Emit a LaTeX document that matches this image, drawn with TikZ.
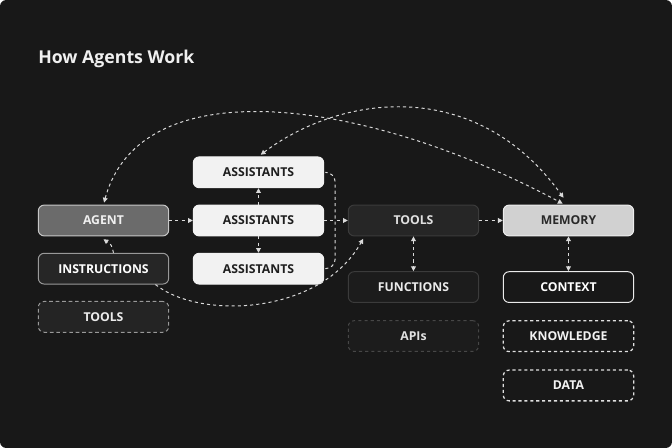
\documentclass[tikz,border=0pt]{standalone}
\usepackage{fontspec}
\setmainfont{Open Sans}
\usepackage{xcolor}
\usetikzlibrary{arrows.meta, positioning, calc}

\definecolor{bgdark}{HTML}{181818}
\definecolor{linkcol}{HTML}{DADADA}

\begin{document}
\begin{tikzpicture}[
    x=0.25mm, y=-0.25mm,
    node distance=4.1mm and 5.9mm,
    every node/.style={font=\fontsize{8.7}{10}\selectfont\bfseries},
    box/.style={
        rounded corners=4.2pt,
        align=center,
        minimum width=32.6mm,
        minimum height=7.7mm,
        inner sep=0pt,
        line width=0.7pt
    },
    agentbox/.style={box, draw=black!22, fill=black!58, text=white!94!black},
    darkbox/.style={box, draw=black!40, fill=black!85, text=white},
    ghostbox/.style={box, draw=black!40, fill=black!86, text=white!92!black, dashed, dash pattern=on 2.6pt off 2pt},
    lightbox/.style={box, draw=white!95!black, fill=white!95!black, text=black!88},
    toolbox/.style={box, draw=black!77, fill=black!85, text=white!88!black},
    funcbox/.style={box, draw=black!77, fill=black!89, text=white!92!black},
    apibox/.style={box, draw=black!72, fill=black!89, text=white!88!black, dashed, dash pattern=on 2.2pt off 2.2pt},
    membox/.style={box, draw=white!93!black, fill=black!18, text=black!84},
    ctxbox/.style={box, draw=white!92!black, fill=bgdark, text=white},
    databox/.style={box, draw=white!88!black, fill=bgdark, text=white!95!black, line width=0.9pt, dashed, dash pattern=on 2.2pt off 2pt},
    link/.style={draw=linkcol, line width=0.7pt, dash pattern=on 2.2pt off 2.2pt, -{Triangle[length=3.4pt, width=3.4pt]}},
    twoway/.style={link, {Triangle[length=3.4pt, width=3.4pt]}-{Triangle[length=3.4pt, width=3.4pt]}}
]

\useasboundingbox (0,0) rectangle (672,448);
\fill[bgdark, rounded corners=4.5pt] (0,0) rectangle (672,448);

\node[anchor=west, inner sep=0pt, text=white!94!black, font=\fontsize{12.6}{15}\selectfont\bfseries] (title) at (38,58.5) {How Agents Work};

% left column
\node[agentbox] (agent) at (103.5,220.5) {AGENT};
\node[darkbox, below=of agent] (instr) {INSTRUCTIONS};
\node[ghostbox, below=of instr] (ltools) {TOOLS};

% assistants
\node[lightbox, right=of agent] (asmid) {ASSISTANTS};
\node[lightbox, above=of asmid] (astop) {ASSISTANTS};
\node[lightbox, below=of asmid] (asbot) {ASSISTANTS};

% tools column
\node[toolbox, right=of asmid] (tools) {TOOLS};
\node[funcbox, below=8.7mm of tools] (funcs) {FUNCTIONS};
\node[apibox, below=4.3mm of funcs] (apis) {APIs};

% memory column
\node[membox, right=of tools] (memory) {MEMORY};
\node[ctxbox, below=8.7mm of memory] (context) {CONTEXT};
\node[databox, below=4.3mm of context] (know) {KNOWLEDGE};
\node[databox, below=4.3mm of know] (data) {DATA};

% straight links
\draw[link] (agent) -- (asmid);
\draw[link] (asmid) -- (tools);
\draw[link] (tools) -- (memory);
\draw[link] (asmid.north) -- (astop.south);
\draw[link] (asmid.south) -- (asbot.north);
\draw[twoway] (tools.south) -- (funcs.north);
\draw[twoway] (memory.south) -- (context.north);

% bracket round the assistants
\draw[link, -, rounded corners=7pt] ($(astop.east)+(2,0)$) -- ($(astop.east)+(11,0)$)
    -- ($(asbot.east)+(11,0)$) -- ($(asbot.east)+(2,0)$);

% curved links
\draw[link] ($(instr.north)+(10,0)$) .. controls ($(instr.north)+(8,-8)$) .. ([yshift=-2]agent.south);
\draw[link, shorten >=2pt] (instr.-17) .. controls (200,320) and (320,315) .. (tools.198);
\draw[twoway, shorten <=1.5pt, shorten >=1.5pt] (agent.north) .. controls (140,70) and (360,95) .. ($(memory.north)+(-4,0)$);
\draw[twoway, shorten <=2pt, shorten >=6pt] (astop.north) .. controls (340,95) and (475,75) .. (memory.north);

\end{tikzpicture}
\end{document}
